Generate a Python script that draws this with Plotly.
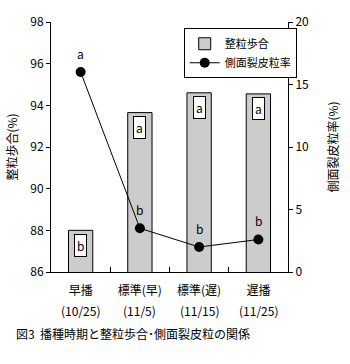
import plotly.graph_objects as go

categories = ["早播", "標準(早)", "標準(遅)", "遅播"]
dates = ["(10/25)", "(11/5)", "(11/15)", "(11/25)"]
seiryu = [88.0, 93.65, 94.6, 94.55]
seiryu_labels = ["b", "a", "a", "a"]
sokumen = [16.0, 3.5, 2.0, 2.6]
sokumen_labels = ["a", "b", "b", "b"]

FONT = "Noto Sans CJK JP"

fig = go.Figure()
fig.add_trace(go.Bar(
    x=categories, y=seiryu, name="整粒歩合", width=0.41,
    marker=dict(color="white", line=dict(color="black", width=1),
                pattern=dict(shape=".", fgcolor="#000000", bgcolor="white",
                             size=2, solidity=0.45)),
    yaxis="y",
))
fig.add_trace(go.Scatter(
    x=categories, y=sokumen, name="側面裂皮粒率", mode="lines+markers",
    line=dict(color="black", width=1),
    marker=dict(color="black", size=10),
    yaxis="y2",
))

for c, v, t in zip(categories, seiryu, seiryu_labels):
    fig.add_annotation(x=c, y=v, xref="x", yref="y", text=t, showarrow=False,
                       yshift=-15, bgcolor="white", bordercolor="black",
                       borderwidth=1, borderpad=2,
                       font=dict(family=FONT, size=12, color="#000000"))
for c, v, t in zip(categories, sokumen, sokumen_labels):
    fig.add_annotation(x=c, y=v, xref="x", yref="y2", text=t, showarrow=False,
                       yshift=19, font=dict(family=FONT, size=12, color="#000000"))
for c, d in zip(categories, dates):
    fig.add_annotation(x=c, y=0, xref="x", yref="paper", text=d, showarrow=False,
                       yanchor="middle", yshift=-38,
                       font=dict(family=FONT, size=12, color="#000000"))

fig.add_annotation(x=0, y=-0.245, xref="paper", yref="paper", xanchor="left",
                   xshift=-37, yanchor="middle",
                   text="図3  播種時期と整粒歩合･側面裂皮粒の関係", showarrow=False,
                   font=dict(family=FONT, size=12, color="#000000"))

fig.update_layout(
    width=350, height=364,
    margin=dict(l=41, r=47, t=14, b=92),
    paper_bgcolor="white", plot_bgcolor="white",
    font=dict(family=FONT, size=12, color="#000000"),
    showlegend=True,
    legend=dict(x=0.56, y=0.975, xanchor="left", yanchor="top",
                bordercolor="black", borderwidth=1, bgcolor="white",
                font=dict(family=FONT, size=11), tracegroupgap=0,
                itemwidth=30),
    xaxis=dict(type="category", tickvals=categories, ticktext=categories,
               showline=True, linecolor="black", linewidth=1,
               ticks="inside", tickson="boundaries", ticklen=5,
               tickcolor="black", showgrid=False, ticklabelstandoff=8,
               range=[-0.5, 3.5]),
    yaxis=dict(range=[86, 98], dtick=2, showline=True, linecolor="black",
               linewidth=1, ticks="outside", ticklen=4, tickcolor="black",
               showgrid=False, zeroline=False,
               title=dict(text="整粒歩合(%)", standoff=10,
                          font=dict(family=FONT, size=12))),
    yaxis2=dict(range=[0, 20], dtick=5, overlaying="y", side="right",
                showline=True, linecolor="black", linewidth=1,
                ticks="outside", ticklen=4, tickcolor="black",
                showgrid=False, zeroline=False,
                title=dict(text="側面裂皮粒率(%)", standoff=21,
                           font=dict(family=FONT, size=12))),
    bargap=0.6,
)

fig.write_html("out.html")
